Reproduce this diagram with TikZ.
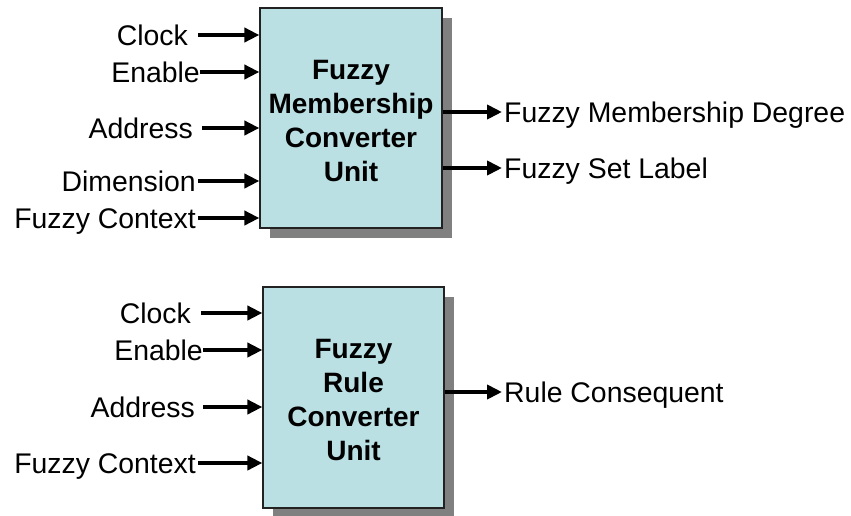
\documentclass[tikz,border=0pt]{standalone}
\usepackage{fontspec}
\setmainfont{Liberation Sans}
\usetikzlibrary{arrows.meta,shadows}
\definecolor{unitfill}{HTML}{BAE0E3}
\definecolor{unitshadow}{HTML}{808080}
\definecolor{unitedge}{HTML}{222222}
\tikzset{
  unitbox/.style={draw=unitedge, line width=1.2pt, fill=unitfill,
    drop shadow={shadow xshift=10pt, shadow yshift=-10pt, fill=unitshadow, opacity=1},
    inner sep=0pt},
  unittext/.style={align=center, inner sep=0pt,
    font=\fontsize{28}{34}\selectfont\bfseries},
  sigtext/.style={inner sep=0pt, text height=20pt, text depth=0pt,
    font=\fontsize{28.4}{34}\selectfont},
  inlabel/.style={sigtext, anchor=east},
  outlabel/.style={sigtext, anchor=west},
  sig/.style={line width=4.6pt, -{Triangle[length=15pt,width=14pt]}}
}
\begin{document}
\begin{tikzpicture}[x=1pt,y=-1pt]
  \useasboundingbox (0,0) rectangle (851,515);

  % ---------- membership converter ----------
  \node[unitbox, minimum width=182pt, minimum height=220pt] (mcu) at (351,118) {};
  \node[unittext] (mcut) at (351,121) {Fuzzy\\Membership\\Converter\\Unit};

  \node[inlabel] (mclk) at (188,35)  {Clock};
  \node[inlabel] (men)  at (200,72)  {Enable};
  \node[inlabel] (madr) at (193,128) {Address};
  \node[inlabel] (mdim) at (196,181) {Dimension};
  \node[inlabel] (mctx) at (196,218) {Fuzzy Context};

  \draw[sig] ([xshift=10pt]mclk.east) -- (mclk -| mcu.west);
  \draw[sig] (men.east) -- (men -| mcu.west);
  \draw[sig] ([xshift=9pt]madr.east) -- (madr -| mcu.west);
  \draw[sig] ([xshift=2pt]mdim.east) -- (mdim -| mcu.west);
  \draw[sig] ([xshift=2pt]mctx.east) -- (mctx -| mcu.west);

  \node[outlabel] (mdeg) at (504,112) {Fuzzy Membership Degree};
  \node[outlabel] (mset) at (504,168) {Fuzzy Set Label};
  \draw[sig] (mcu.east |- mdeg) -- ([xshift=-2pt]mdeg.west);
  \draw[sig] (mcu.east |- mset) -- ([xshift=-2pt]mset.west);

  % ---------- rule converter ----------
  \node[unitbox, minimum width=181pt, minimum height=221pt] (rcu) at (353.5,397.5) {};
  \node[unittext] (rcut) at (353.5,400) {Fuzzy\\Rule\\Converter\\Unit};

  \node[inlabel] (rclk) at (191,313) {Clock};
  \node[inlabel] (ren)  at (203,350) {Enable};
  \node[inlabel] (radr) at (195,407) {Address};
  \node[inlabel] (rctx) at (196,463) {Fuzzy Context};

  \draw[sig] ([xshift=10pt]rclk.east) -- (rclk -| rcu.west);
  \draw[sig] (ren.east) -- (ren -| rcu.west);
  \draw[sig] ([xshift=8pt]radr.east) -- (radr -| rcu.west);
  \draw[sig] ([xshift=2pt]rctx.east) -- (rctx -| rcu.west);

  \node[outlabel] (rcon) at (504,392) {Rule Consequent};
  \draw[sig] (rcu.east |- rcon) -- ([xshift=-2pt]rcon.west);
\end{tikzpicture}
\end{document}
